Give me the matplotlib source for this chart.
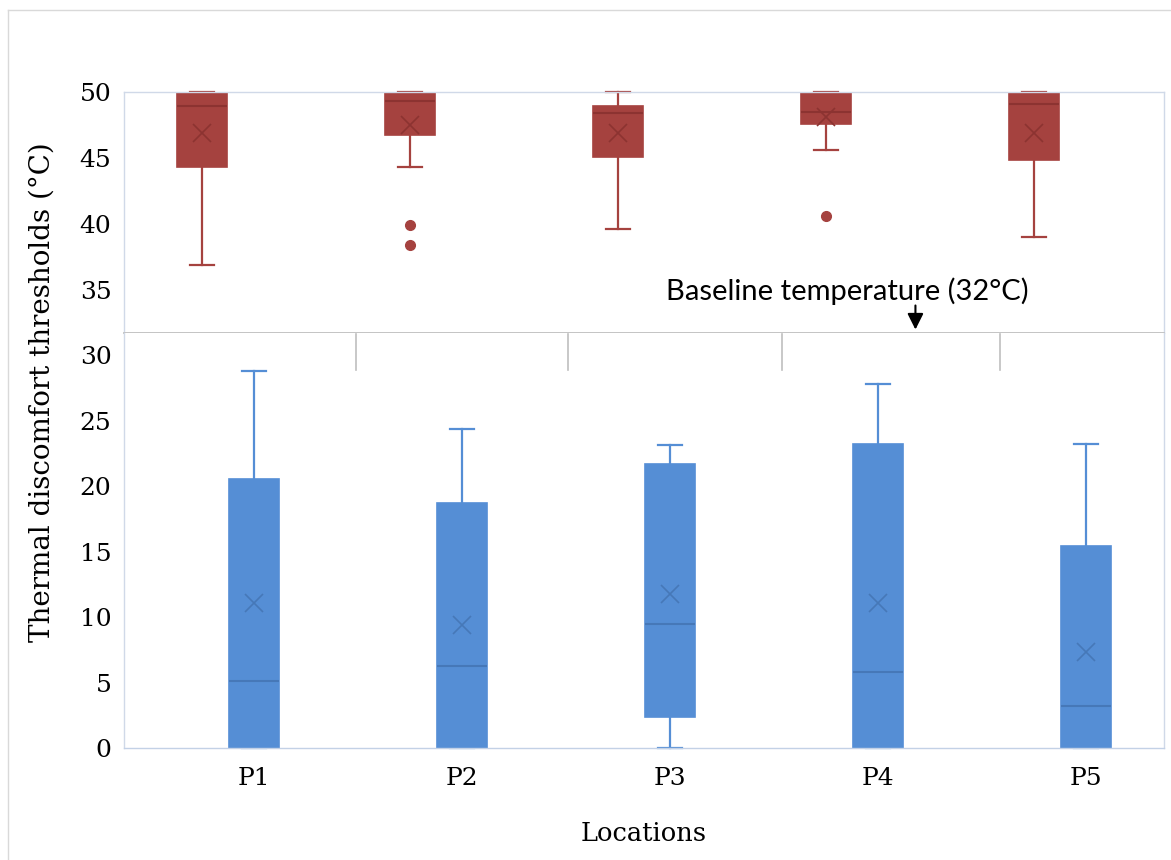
import matplotlib
matplotlib.use('Agg')
import matplotlib.pyplot as plt
from matplotlib.lines import Line2D

locations = ['P1', 'P2', 'P3', 'P4', 'P5']

# upper (red) boxes
red_q1 = [44.3, 46.7, 45.1, 47.6, 44.85]
red_med = [48.95, 49.3, 48.4, 48.5, 49.1]
red_q3 = [50.0, 50.0, 48.95, 50.0, 50.0]
red_mean = [46.9, 47.5, 46.9, 48.1, 46.9]
red_lo = [36.9, 44.3, 39.6, 45.6, 39.0]
red_hi = [50.0, 50.0, 50.0, 50.0, 50.0]
red_fliers = [[], [39.9, 38.4], [], [40.6], []]

# lower (blue) boxes
blue_q1 = [0.0, 0.0, 2.35, 0.0, 0.0]
blue_med = [5.1, 6.26, 9.5, 5.8, 3.23]
blue_q3 = [20.56, 18.7, 21.7, 23.2, 15.4]
blue_mean = [11.05, 9.4, 11.8, 11.1, 7.35]
blue_lo = [0.0, 0.0, 0.0, 0.0, 0.0]
blue_hi = [28.8, 24.35, 23.15, 27.8, 23.25]

separators = [1.49, 2.51, 3.54, 4.585]

RED = '#a5423f'
RED_DARK = '#8c3331'
BLUE = '#558ed5'
BLUE_DARK = '#4678b8'
SPINE = '#d0d9e8'

plt.rcParams['font.family'] = 'DejaVu Serif'

fig = plt.figure(figsize=(11.71, 8.6), dpi=100)
left, right = 124 / 1171, 1164 / 1171
y_top, y_mid, y_bot = 1 - 92 / 860, 1 - 333 / 860, 1 - 748 / 860
ax_top = fig.add_axes([left, y_mid, right - left, y_top - y_mid])
ax_bot = fig.add_axes([left, y_bot, right - left, y_mid - y_bot])


def make_stats(q1, med, q3, mean, lo, hi, fliers=None):
    stats = []
    for i in range(len(q1)):
        stats.append({'q1': q1[i], 'med': med[i], 'q3': q3[i], 'mean': mean[i],
                      'whislo': lo[i], 'whishi': hi[i],
                      'fliers': fliers[i] if fliers else []})
    return stats


def draw(ax, stats, pos, face, dark):
    ax.bxp(stats, positions=pos, widths=0.236, patch_artist=True,
           showmeans=True, showfliers=True,
           boxprops=dict(facecolor=face, edgecolor=face, linewidth=1.2),
           medianprops=dict(color=dark, linewidth=1.5),
           whiskerprops=dict(color=face, linewidth=1.6),
           capprops=dict(color=face, linewidth=1.6),
           meanprops=dict(marker='x', markeredgecolor=dark, markersize=13,
                          markeredgewidth=1.2),
           flierprops=dict(marker='o', markerfacecolor=face, markeredgecolor=face,
                           markersize=7),
           manage_ticks=False)


x = list(range(1, len(locations) + 1))
red_x = [i - 0.25 for i in x]

draw(ax_top, make_stats(red_q1, red_med, red_q3, red_mean, red_lo, red_hi, red_fliers),
     red_x, RED, RED_DARK)
draw(ax_bot, make_stats(blue_q1, blue_med, blue_q3, blue_mean, blue_lo, blue_hi),
     x, BLUE, BLUE_DARK)

for ax in (ax_top, ax_bot):
    ax.set_xlim(0.375, 5.375)
    for s in ax.spines.values():
        s.set_color(SPINE)
        s.set_linewidth(1.0)
    ax.tick_params(axis='y', length=0, pad=9, labelsize=18)
    ax.tick_params(axis='x', length=0)
    for c in ax.get_children():
        if isinstance(c, Line2D):
            c.set_clip_on(False)

ax_top.set_ylim(31.7, 50)
ax_top.set_yticks([35, 40, 45, 50])
ax_top.set_xticks([])
ax_top.spines['bottom'].set_color('#bfbfbf')
ax_top.spines['bottom'].set_linewidth(1.3)

ax_bot.set_ylim(0, 31.7)
ax_bot.set_yticks(range(0, 31, 5))
ax_bot.spines['top'].set_visible(False)
ax_bot.spines['bottom'].set_color('#c3d1e6')
ax_bot.set_xticks(x)
ax_bot.set_xticklabels(locations, fontsize=18)
ax_bot.tick_params(axis='x', pad=14)
ax_bot.set_xlabel('Locations', fontsize=18.5, labelpad=22)

for s in separators:
    ax_bot.plot([s, s], [31.6, 28.9], color='#bfbfbf', linewidth=1.2)

fig.text(0.036, 1 - 392 / 860, 'Thermal discomfort thresholds (°C)', rotation=90,
         ha='center', va='center', fontsize=20)

ax_top.text(3.854, 34.85, 'Baseline temperature (32°C)', ha='center', va='center',
            fontsize=21, family='Lato')
ax_top.annotate('', xy=(4.18, 31.75), xytext=(4.18, 34.0),
                arrowprops=dict(arrowstyle='-|>', color='black', lw=1.5,
                                mutation_scale=24),
                annotation_clip=False)

# outer frame of the chart area
fig.add_artist(Line2D([8 / 1171, 8 / 1171], [0, 1 - 10 / 860], color='#d9d9d9', lw=1))
fig.add_artist(Line2D([8 / 1171, 1], [1 - 10 / 860, 1 - 10 / 860], color='#d9d9d9', lw=1))

fig.savefig('out.png', dpi=100)
